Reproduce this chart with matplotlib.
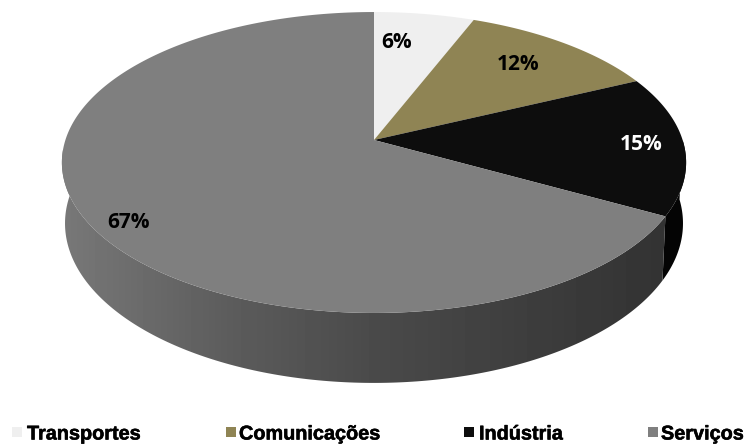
import numpy as np
import matplotlib
matplotlib.use('Agg')
import matplotlib.pyplot as plt
import matplotlib.patheffects as pe
from matplotlib.patches import Polygon, Rectangle

# Dados do gráfico
categorias = ['Transportes', 'Comunicações', 'Indústria', 'Serviços']
valores = [6, 12, 15, 67]
cores = ['#EFEFEF', '#8F8454', '#0D0D0D', '#7F7F7F']
cores_rotulo = ['black', 'black', 'white', 'black']

# Geometria da pizza em perspectiva (pixels)
cx, cy = 374, 140
larg, alt = 308.6, 147.1
k = 0.1495
prof = 59.5

pos_rotulos = [(397, 43), (518, 64), (641, 145), (129, 223)]
pos_legenda = [(12, 27), (226, 239), (464, 479), (648, 661)]


def topo(ang):
    # ang em graus, sentido horário a partir do topo
    a = np.radians(ang)
    X, Y = np.sin(a), np.cos(a)
    d = 1 + k * Y
    return cx + larg * X / d, cy - alt * Y / d


def base(ang):
    a = np.radians(ang)
    x, y = topo(ang)
    d = 1 + k * np.cos(a)
    return cx + (x - cx) * 0.99, y + prof / d


def parede(a0, a1):
    angs = np.linspace(a0, a1, 200)
    xt, yt = topo(angs)
    xb, yb = base(angs)
    return np.r_[np.c_[xt, yt], np.c_[xb, yb][::-1]]


fig = plt.figure(figsize=(7.46, 4.47), dpi=100)
ax = fig.add_axes([0, 0, 1, 1])
ax.set_xlim(0, 746)
ax.set_ylim(447, 0)
ax.axis('off')

limites = np.cumsum([0] + valores) * 3.6

# Parede lateral: Indústria (quase preta) e Serviços com degradê
ax.add_patch(Polygon(parede(90, limites[3]), closed=True, fc='#040404', ec='none'))

muro = Polygon(parede(limites[3], 285), closed=True, fc='none', ec='none')
ax.add_patch(muro)
xs = np.arange(50, 700)
tons = np.interp(xs, [62, 230, 374, 660], [0x78, 0x5C, 0x4A, 0x33]) / 255
img = ax.imshow(tons[np.newaxis, :], cmap='gray', vmin=0, vmax=1, aspect='auto',
                extent=[50, 700, 400, 150], zorder=1)
img.set_clip_path(muro)
ax.set_xlim(0, 746)
ax.set_ylim(447, 0)

# Face superior
for i in range(len(valores)):
    angs = np.linspace(limites[i], limites[i + 1], 300)
    x, y = topo(angs)
    pts = np.r_[[[cx, cy]], np.c_[x, y]]
    ax.add_patch(Polygon(pts, closed=True, fc=cores[i], ec='none', zorder=2))

# Rótulos de percentagem
for v, (x, y), c in zip(valores, pos_rotulos, cores_rotulo):
    ax.text(x, y, f'{v}%', ha='center', va='center', fontsize=15, family='Open Sans',
            fontweight='bold', color=c, zorder=3)

# Legenda
for nome, cor, (xq, xt) in zip(categorias, cores, pos_legenda):
    ax.add_patch(Rectangle((xq, 427), 10, 10, fc=cor, ec='none'))
    ax.text(xt, 434, nome, ha='left', va='center', fontsize=14.3,
            family='Liberation Sans', fontweight='bold', color='black',
            path_effects=[pe.withStroke(linewidth=0.4, foreground='black')])

fig.savefig('out.png', dpi=100)
